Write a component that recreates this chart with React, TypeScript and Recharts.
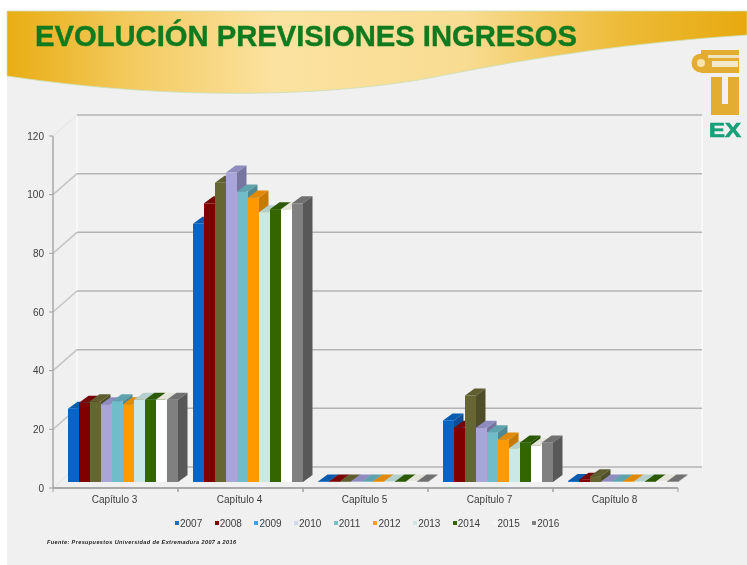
import React from "react";
import { BarChart, Bar, XAxis, YAxis, CartesianGrid, Legend } from "recharts";

const categories = ["Capítulo 3", "Capítulo 4", "Capítulo 5", "Capítulo 7", "Capítulo 8"];
const years = ["2007", "2008", "2009", "2010", "2011", "2012", "2013", "2014", "2015", "2016"];
const yTicks = [0, 20, 40, 60, 80, 100, 120];

const values2007 = [25, 88, 0.2, 21, 0.3];
const values2008 = [27, 95, 0.2, 18.5, 0.8];
const values2009 = [27.5, 102, 0.2, 29.5, 2];
const values2010 = [26.5, 105.5, 0.2, 18.5, 0.2];
const values2011 = [27.5, 99, 0.2, 17, 0.2];
const values2012 = [26.5, 97, 0.2, 14.5, 0.2];
const values2013 = [28, 92, 0.2, 11.5, 0.2];
const values2014 = [28, 93, 0.2, 13.5, 0.2];
const values2015 = [28, 93, 0.2, 12.5, 0.2];
const values2016 = [28, 95, 0.2, 13.5, 0.2];
const seriesValues = [values2007, values2008, values2009, values2010, values2011, values2012, values2013, values2014, values2015, values2016];

const faceColors = ["#0a64c4", "#800000", "#666633", "#a9a5d8", "#70bcc8", "#ff9900", "#cce8e6", "#336600", "#ffffff", "#808080"];
const topColors = ["#0a5cb0", "#780808", "#5e5e30", "#8f8cc0", "#5fa3ae", "#e08a08", "#b4cfcc", "#2c5a04", "#e4e4da", "#707070"];
const sideColors = ["#0a4f98", "#640000", "#4e4e28", "#77749f", "#4f8a94", "#c67a00", "#a6bdbb", "#244a00", "#d0d0c8", "#585858"];
const legendColors = ["#1f6fc0", "#800000", "#3f9fe8", "#cfd8e8", "#72c0c0", "#f0a020", "#cfe6e4", "#336600", "#f4f4f4", "#808080"];

const chartData = categories.map((name, i) => {
  const row: Record<string, string | number> = { name };
  years.forEach((y, s) => { row[y] = seriesValues[s][i]; });
  return row;
});

const DEPTH_X = 24;
const DEPTH_Y = 21;

const gridLine = (p: any) => {
  const faint = p.index === 0 || p.index === yTicks.length - 1;
  return (
    <g key={p.key ?? p.y1}>
      <line x1={p.x1} y1={p.y1} x2={p.x1 + DEPTH_X} y2={p.y1 - DEPTH_Y} stroke={faint ? "#e8e8e8" : "#c4c4c4"} strokeWidth={1.5} />
      <line x1={p.x1 + DEPTH_X} y1={p.y1 - DEPTH_Y} x2={p.x2 + DEPTH_X} y2={p.y1 - DEPTH_Y} stroke="#b4b4b4" strokeWidth={1.5} />
    </g>
  );
};

const barShape = (s: number) => (p: any) => {
  const dx = 7.5, dy = -6, sx = 9.5, sy = -7;
  const x = p.x + dx, y = p.y + dy, w = p.width, h = p.height;
  return (
    <g>
      <polygon points={`${x},${y} ${x + sx},${y + sy} ${x + w + sx},${y + sy} ${x + w},${y}`} fill={topColors[s]} />
      <polygon points={`${x + w},${y} ${x + w + sx},${y + sy} ${x + w + sx},${y + h + sy} ${x + w},${y + h}`} fill={sideColors[s]} />
      <rect x={x} y={y} width={w} height={h} fill={faceColors[s]} />
    </g>
  );
};

const xTick = (p: any) => (
  <g>
    <line x1={p.x - 62.5} x2={p.x - 62.5} y1={488} y2={492} stroke="#a0a0a0" />
    <line x1={p.x + 62.5} x2={p.x + 62.5} y1={488} y2={492} stroke="#a0a0a0" />
    <text x={p.x - 1} y={p.y + 7} textAnchor="middle" fontSize={10} fontFamily="Liberation Sans" fill="#3c3c3c">
      {p.payload.value}
    </text>
  </g>
);

const legendContent = () => (
  <div style={{ display: "flex", height: 14, alignItems: "center" }}>
    {years.map((y, i) => (
      <div key={y} style={{ width: 39.7, display: "flex", alignItems: "center", fontFamily: "Liberation Sans", fontSize: 10, color: "#3c3c3c" }}>
        <span style={{ width: 4, height: 4, background: legendColors[i], marginRight: 1 }} />
        {y}
      </div>
    ))}
  </div>
);

export default function App() {
  return (
    <div style={{ position: "absolute", left: 0, top: 0, width: 747, height: 565, background: "#ffffff", overflow: "hidden", filter: "blur(0.45px)" }}>
      <svg width={747} height={565} style={{ position: "absolute", left: 0, top: 0 }}>
        <defs>
          <linearGradient id="gold" x1="0" x2="1" y1="0" y2="0">
            <stop offset="0" stopColor="#e9ad14" />
            <stop offset="0.16" stopColor="#f3c95c" />
            <stop offset="0.36" stopColor="#fbe2a0" />
            <stop offset="0.62" stopColor="#f8dc92" />
            <stop offset="0.83" stopColor="#edbb38" />
            <stop offset="1" stopColor="#e7a90e" />
          </linearGradient>
        </defs>
        <rect x={7} y={11} width={740} height={554} fill="#f0f0f0" />
        <path d="M7 11 H747 V35 C640 42 540 56 440 76 C340 96 180 102 7 76 Z" fill="url(#gold)" stroke="#c9e0b8" strokeWidth={0.8} />
        <text x={35} y={46} fontFamily="Liberation Sans" fontWeight={700} fontSize={30} fill="#0f7a1e" stroke="#0f7a1e" strokeWidth={0.4} textLength={542} lengthAdjust="spacingAndGlyphs">
          EVOLUCIÓN PREVISIONES INGRESOS
        </text>
        <g fill="#e3ad32">
          <rect x={701} y={50} width={38} height={23} />
          <circle cx={701} cy={63} r={9.5} />
          <rect x={711} y={77} width={11} height={30} />
          <rect x={728} y={77} width={11} height={30} />
          <rect x={711} y={104} width={28} height={11} />
        </g>
        <rect x={708} y={55} width={31} height={3} fill="#f0e4c0" />
        <rect x={712} y={61} width={26} height={6} fill="#f3e8c8" />
        <circle cx={701} cy={63} r={4} fill="#f6e3ae" />
        <text x={709} y={137} fontFamily="Liberation Sans" fontWeight={700} fontSize={21} fill="#18a078" stroke="#18a078" strokeWidth={0.7} textLength={32} lengthAdjust="spacingAndGlyphs">EX</text>
        <line x1={77} x2={77} y1={116} y2={467} stroke="#f8f8f8" strokeWidth={2} />
        <line x1={702} x2={702} y1={116} y2={467} stroke="#f8f8f8" strokeWidth={2} />
        <text x={47} y={544} fontFamily="Liberation Sans" fontStyle="italic" fontWeight={700} fontSize={5.5} fill="#1a1a1a" textLength={189} lengthAdjust="spacing">
          Fuente: Presupuestos Universidad de Extremadura 2007 a 2016
        </text>
      </svg>
      <div style={{ position: "absolute", left: 0, top: 0 }}>
        <BarChart
          width={747}
          height={565}
          data={chartData}
          margin={{ top: 136, right: 69, bottom: 35, left: 8 }}
          barCategoryGap={7.5}
          barGap={0}
        >
          <CartesianGrid horizontal={gridLine} vertical={false} />
          <XAxis dataKey="name" height={28} axisLine={{ stroke: "#a8a8a8", strokeWidth: 2 }} tickLine={false} tick={xTick} interval={0} />
          <YAxis
            width={45}
            domain={[0, 120]}
            ticks={yTicks}
            axisLine={{ stroke: "#a8a8a8", strokeWidth: 1.5 }}
            tickLine={{ stroke: "#a0a0a0" }}
            tickSize={4}
            tickMargin={5}
            tick={{ fontSize: 10, fontFamily: "Liberation Sans", fill: "#3c3c3c" }}
          />
          <Legend content={legendContent} height={14} wrapperStyle={{ left: 175, width: 400 }} />
          {years.map((y, s) => (
            <Bar key={y} dataKey={y} isAnimationActive={false} fill={faceColors[s]} shape={barShape(s)} />
          ))}
        </BarChart>
      </div>
    </div>
  );
}
